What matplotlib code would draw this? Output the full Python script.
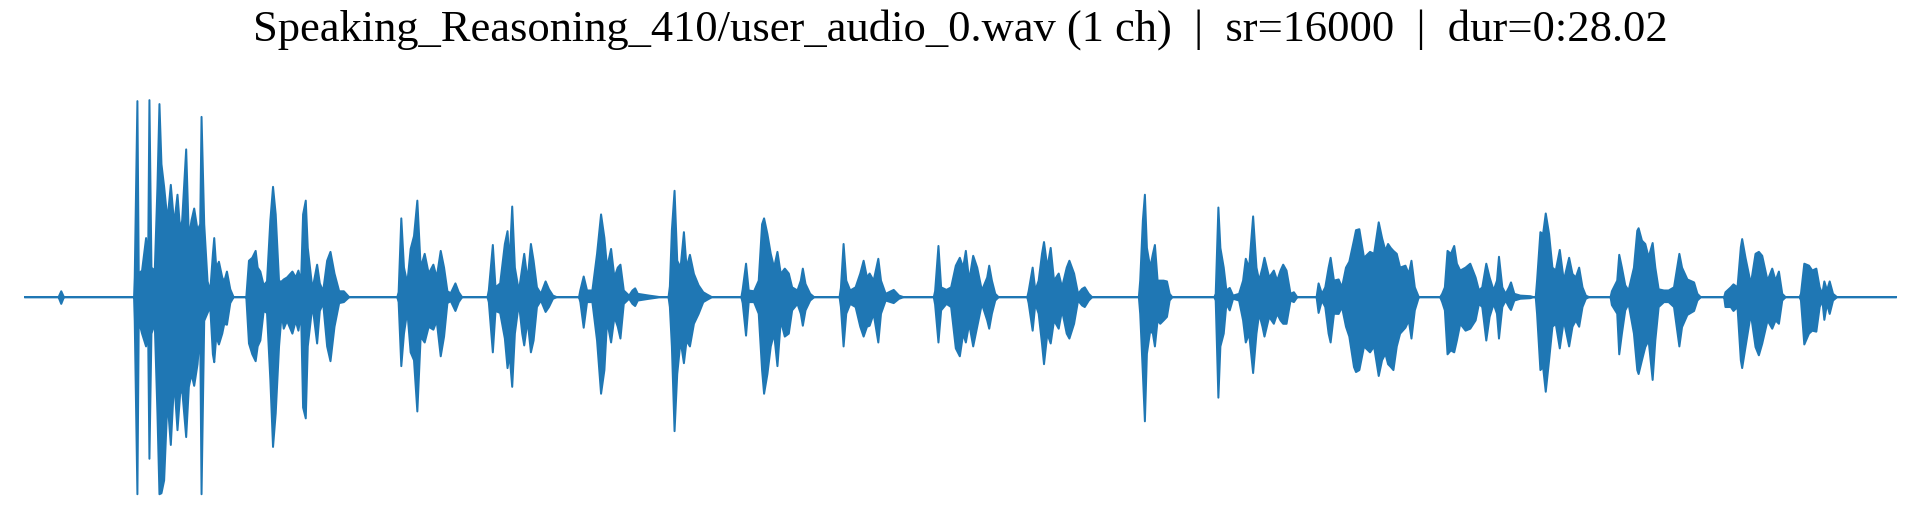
"""
Waveform overview of a speech clip (envelope read off the rendered plot).
"""

import matplotlib
matplotlib.use("Agg")
import matplotlib.pyplot as plt
import numpy as np


FILE_NAME = "Speaking_Reasoning_410/user_audio_0.wav"
N_CHANNELS = 1
SAMPLE_RATE = 16000
DURATION = 28.02  # seconds

WAVE_COLOR = "#1f77b4"

# ---------------------------------------------------------------------------
# Envelope keypoints : time (s), upper peak, lower peak (normalised amplitude)
# ---------------------------------------------------------------------------

env_t = [
    0.00, 0.51, 0.55, 0.59,
    # burst 1
    1.64, 1.65, 1.69, 1.71, 1.76, 1.82, 1.85, 1.87, 1.90, 1.95, 1.99, 2.02,
    2.05, 2.09, 2.14, 2.19, 2.24, 2.29, 2.33, 2.36, 2.42, 2.46, 2.50, 2.54,
    2.59, 2.63, 2.65, 2.69, 2.74, 2.78, 2.82, 2.84, 2.87, 2.91, 2.96, 2.99,
    3.03, 3.08, 3.13,
    # burst 2
    3.32, 3.36, 3.41, 3.46, 3.49, 3.53, 3.58, 3.63, 3.68, 3.72, 3.76, 3.81,
    3.85, 3.88, 3.93, 4.01, 4.06, 4.10, 4.14, 4.17, 4.21, 4.24, 4.31, 4.38,
    4.42, 4.47, 4.53, 4.58, 4.64, 4.71, 4.78, 4.86,
    # burst 3
    5.58, 5.60, 5.64, 5.68, 5.73, 5.78, 5.83, 5.88, 5.93, 5.99, 6.05, 6.12,
    6.17, 6.23, 6.28, 6.33, 6.38, 6.45, 6.50, 6.55,
    # burst 4
    6.93, 6.95, 7.01, 7.05, 7.12, 7.19, 7.23, 7.26, 7.30, 7.34, 7.40, 7.45,
    7.48, 7.53, 7.58, 7.62, 7.67, 7.73, 7.80, 7.85, 7.91, 7.97,
    # burst 5
    8.30, 8.32, 8.37, 8.42, 8.50, 8.57, 8.63, 8.68, 8.72, 8.78, 8.83, 8.88,
    8.92, 8.97, 9.05, 9.10, 9.14, 9.18, 9.35, 9.52,
    # burst 6
    9.64, 9.66, 9.69, 9.73, 9.77, 9.82, 9.87, 9.91, 9.96, 10.02, 10.09, 10.16,
    10.22, 10.29,
    # burst 7
    10.73, 10.75, 10.80, 10.84, 10.92, 10.99, 11.04, 11.07, 11.12, 11.17,
    11.22, 11.27, 11.32, 11.38, 11.44, 11.49, 11.57, 11.62, 11.65, 11.69,
    11.76, 11.82,
    # burst 8
    12.20, 12.22, 12.26, 12.30, 12.36, 12.44, 12.51, 12.56, 12.61, 12.65,
    12.71, 12.78, 12.82, 12.89, 13.01, 13.09, 13.16,
    # burst 9
    13.61, 13.63, 13.68, 13.72, 13.80, 13.87, 13.94, 14.00, 14.05, 14.09,
    14.14, 14.20, 14.26, 14.33, 14.41, 14.44, 14.48, 14.53, 14.58,
    # burst 10
    15.01, 15.03, 15.09, 15.13, 15.18, 15.23, 15.26, 15.31, 15.36, 15.41,
    15.48, 15.53, 15.60, 15.64, 15.71, 15.77, 15.83, 15.87, 15.93, 15.98,
    # burst 11
    16.68, 16.70, 16.74, 16.77, 16.80, 16.85, 16.89, 16.92, 16.96, 17.00,
    17.05, 17.10, 17.14, 17.18,
    # burst 12
    17.81, 17.83, 17.87, 17.90, 17.95, 17.99, 18.04, 18.09, 18.18, 18.24,
    18.28, 18.33, 18.39, 18.44, 18.48, 18.53, 18.56, 18.63, 18.70, 18.75,
    18.80, 18.84, 18.89, 18.95, 19.00, 19.05,
    # burst 13
    19.34, 19.37, 19.42, 19.47, 19.52, 19.55, 19.60, 19.67, 19.72, 19.78,
    19.83, 19.90, 19.93, 19.98, 20.05, 20.14, 20.20, 20.27, 20.32, 20.37,
    20.41, 20.45, 20.49, 20.54, 20.59, 20.67, 20.72, 20.76, 20.81, 20.87,
    # burst 14
    21.19, 21.22, 21.26, 21.30, 21.35, 21.40, 21.44, 21.49, 21.57, 21.64,
    21.72, 21.77, 21.82, 21.88, 21.93, 21.99, 22.04, 22.07, 22.12, 22.17,
    22.22, 22.25, 22.30, 22.39, 22.54, 22.59,
    # burst 15
    22.62, 22.64, 22.69, 22.73, 22.77, 22.82, 22.87, 22.92, 22.98, 23.04,
    23.12, 23.17, 23.22, 23.27, 23.32, 23.37, 23.42,
    # burst 16
    23.74, 23.76, 23.84, 23.87, 23.91, 23.96, 24.01, 24.09, 24.14, 24.16,
    24.21, 24.26, 24.31, 24.37, 24.41, 24.46, 24.54, 24.61, 24.69, 24.77,
    24.81, 24.89, 24.99, 25.04, 25.09,
    # burst 17
    25.44, 25.46, 25.54, 25.58, 25.64, 25.69, 25.71, 25.76, 25.84, 25.91,
    25.96, 26.01, 26.09, 26.16, 26.21, 26.26, 26.31, 26.36,
    # burst 18
    26.57, 26.59, 26.64, 26.71, 26.76, 26.82, 26.87, 26.91, 26.94, 26.98,
    27.02, 27.07, 27.13,
    28.02,
]

env_hi = [
    0.0, 0.0, 0.03, 0.0,
    # burst 1
    0.0, 0.10, 0.995, 0.12, 0.135, 0.30, 0.15, 1.0, 0.15, 0.135, 0.56, 0.98,
    0.675, 0.56, 0.39, 0.57, 0.37, 0.52, 0.34, 0.39, 0.75, 0.30, 0.39, 0.45,
    0.34, 0.37, 0.915, 0.37, 0.08, 0.03, 0.22, 0.30, 0.15, 0.18, 0.10, 0.08,
    0.13, 0.04, 0.0,
    # burst 2
    0.0, 0.185, 0.20, 0.235, 0.15, 0.13, 0.06, 0.08, 0.39, 0.56, 0.42, 0.08,
    0.08, 0.09, 0.10, 0.13, 0.10, 0.135, 0.08, 0.42, 0.49, 0.25, 0.04, 0.165,
    0.07, 0.03, 0.185, 0.23, 0.12, 0.03, 0.03, 0.0,
    # burst 3
    0.0, 0.025, 0.40, 0.15, 0.07, 0.245, 0.31, 0.49, 0.15, 0.22, 0.12, 0.165,
    0.10, 0.235, 0.15, 0.03, 0.02, 0.07, 0.025, 0.0,
    # burst 4
    0.0, 0.035, 0.265, 0.05, 0.07, 0.27, 0.335, 0.17, 0.46, 0.15, 0.03, 0.15,
    0.22, 0.084, 0.27, 0.185, 0.05, 0.017, 0.08, 0.04, 0.008, 0.0,
    # burst 5
    0.0, 0.035, 0.105, 0.034, 0.034, 0.22, 0.42, 0.30, 0.15, 0.245, 0.10, 0.15,
    0.165, 0.034, 0.008, 0.034, 0.045, 0.017, 0.008, 0.0,
    # burst 6
    0.0, 0.055, 0.34, 0.54, 0.185, 0.15, 0.33, 0.15, 0.215, 0.118, 0.06, 0.025,
    0.013, 0.0,
    # burst 7
    0.0, 0.04, 0.17, 0.034, 0.03, 0.084, 0.37, 0.40, 0.32, 0.22,
    0.15, 0.23, 0.118, 0.145, 0.12, 0.05, 0.034, 0.084, 0.145, 0.067,
    0.017, 0.0,
    # burst 8
    0.0, 0.047, 0.27, 0.084, 0.034, 0.05, 0.12, 0.185, 0.10, 0.12,
    0.084, 0.195, 0.084, 0.017, 0.037, 0.008, 0.0,
    # burst 9
    0.0, 0.03, 0.26, 0.05, 0.037, 0.05, 0.16, 0.20, 0.15, 0.235,
    0.084, 0.21, 0.15, 0.034, 0.10, 0.16, 0.084, 0.017, 0.0,
    # burst 10
    0.0, 0.03, 0.15, 0.034, 0.084, 0.22, 0.28, 0.15, 0.25, 0.084,
    0.12, 0.05, 0.15, 0.185, 0.12, 0.017, 0.042, 0.05, 0.017, 0.0,
    # burst 11
    0.0, 0.085, 0.39, 0.52, 0.25, 0.15, 0.22, 0.265, 0.084, 0.084,
    0.084, 0.08, 0.017, 0.0,
    # burst 12
    0.0, 0.017, 0.455, 0.25, 0.15, 0.034, 0.047, 0.008, 0.017, 0.084,
    0.195, 0.15, 0.41, 0.15, 0.084, 0.15, 0.20, 0.10, 0.135, 0.084,
    0.135, 0.165, 0.135, 0.017, 0.025, 0.0,
    # burst 13
    0.0, 0.07, 0.017, 0.05, 0.15, 0.20, 0.084, 0.09, 0.05, 0.15,
    0.18, 0.29, 0.34, 0.345, 0.20, 0.23, 0.22, 0.38, 0.30, 0.236,
    0.27, 0.25, 0.235, 0.22, 0.15, 0.16, 0.118, 0.185, 0.05, 0.0,
    # burst 14
    0.0, 0.017, 0.05, 0.235, 0.22, 0.26, 0.17, 0.135, 0.15, 0.17,
    0.10, 0.034, 0.05, 0.17, 0.10, 0.034, 0.084, 0.205, 0.05, 0.017,
    0.05, 0.075, 0.017, 0.008, 0.005, 0.0,
    # burst 15
    0.0, 0.084, 0.33, 0.32, 0.425, 0.32, 0.15, 0.135, 0.24, 0.084,
    0.20, 0.118, 0.10, 0.15, 0.05, 0.008, 0.0,
    # burst 16
    0.0, 0.03, 0.084, 0.215, 0.15, 0.06, 0.034, 0.15, 0.337, 0.35,
    0.287, 0.27, 0.202, 0.275, 0.15, 0.04, 0.034, 0.034, 0.05, 0.22,
    0.15, 0.09, 0.075, 0.017, 0.0,
    # burst 17
    0.0, 0.025, 0.05, 0.065, 0.05, 0.253, 0.295, 0.20, 0.067, 0.22,
    0.23, 0.21, 0.084, 0.145, 0.084, 0.13, 0.017, 0.0,
    # burst 18
    0.0, 0.017, 0.17, 0.16, 0.135, 0.145, 0.05, 0.017, 0.08, 0.034,
    0.08, 0.017, 0.0,
    0.0,
]

env_lo = [
    0.0, 0.0, -0.034, 0.0,
    # burst 1
    0.0, -0.12, -1.0, -0.12, -0.185, -0.25, -0.15, -0.82, -0.185, -0.135, -0.59, -1.0,
    -0.995, -0.93, -0.52, -0.75, -0.42, -0.675, -0.49, -0.47, -0.71, -0.455, -0.39, -0.45,
    -0.34, -0.17, -1.0, -0.12, -0.08, -0.05, -0.29, -0.33, -0.20, -0.24, -0.185, -0.135,
    -0.14, -0.03, 0.0,
    # burst 2
    0.0, -0.235, -0.29, -0.325, -0.25, -0.22, -0.07, -0.08, -0.42, -0.76, -0.59, -0.25,
    -0.08, -0.16, -0.12, -0.185, -0.12, -0.17, -0.08, -0.56, -0.615, -0.25, -0.04, -0.235,
    -0.07, -0.03, -0.25, -0.325, -0.15, -0.03, -0.025, 0.0,
    # burst 3
    0.0, -0.025, -0.35, -0.185, -0.07, -0.28, -0.32, -0.58, -0.20, -0.23, -0.15, -0.165,
    -0.12, -0.30, -0.20, -0.03, -0.02, -0.07, -0.025, 0.0,
    # burst 4
    0.0, -0.025, -0.28, -0.07, -0.08, -0.21, -0.36, -0.29, -0.455, -0.185, -0.03, -0.185,
    -0.245, -0.118, -0.28, -0.22, -0.05, -0.017, -0.075, -0.05, -0.008, 0.0,
    # burst 5
    0.0, -0.025, -0.155, -0.025, -0.025, -0.22, -0.49, -0.37, -0.118, -0.23, -0.10, -0.15,
    -0.21, -0.034, -0.008, -0.034, -0.045, -0.017, -0.008, 0.0,
    # burst 6
    0.0, -0.05, -0.25, -0.68, -0.39, -0.22, -0.335, -0.22, -0.25, -0.135, -0.085, -0.025,
    -0.013, 0.0,
    # burst 7
    0.0, -0.03, -0.195, -0.025, -0.025, -0.084, -0.37, -0.49, -0.39, -0.25,
    -0.185, -0.35, -0.118, -0.20, -0.185, -0.067, -0.034, -0.084, -0.145, -0.067,
    -0.017, 0.0,
    # burst 8
    0.0, -0.05, -0.25, -0.084, -0.034, -0.05, -0.15, -0.20, -0.15, -0.145,
    -0.084, -0.23, -0.084, -0.017, -0.03, -0.008, 0.0,
    # burst 9
    0.0, -0.037, -0.23, -0.067, -0.034, -0.05, -0.26, -0.30, -0.185, -0.23,
    -0.135, -0.25, -0.15, -0.034, -0.118, -0.16, -0.084, -0.017, 0.0,
    # burst 10
    0.0, -0.03, -0.17, -0.034, -0.084, -0.236, -0.34, -0.185, -0.235, -0.118,
    -0.16, -0.067, -0.185, -0.21, -0.135, -0.017, -0.042, -0.05, -0.017, 0.0,
    # burst 11
    0.0, -0.085, -0.39, -0.63, -0.287, -0.17, -0.185, -0.25, -0.118, -0.135,
    -0.118, -0.10, -0.017, 0.0,
    # burst 12
    0.0, -0.017, -0.51, -0.25, -0.185, -0.034, -0.067, -0.008, -0.017, -0.118,
    -0.23, -0.185, -0.385, -0.185, -0.084, -0.15, -0.20, -0.10, -0.135, -0.084,
    -0.118, -0.135, -0.135, -0.017, -0.025, 0.0,
    # burst 13
    0.0, -0.08, -0.017, -0.05, -0.185, -0.23, -0.084, -0.085, -0.05, -0.15,
    -0.20, -0.355, -0.38, -0.37, -0.25, -0.28, -0.25, -0.40, -0.32, -0.287,
    -0.34, -0.354, -0.37, -0.25, -0.185, -0.155, -0.118, -0.21, -0.067, 0.0,
    # burst 14
    0.0, -0.025, -0.067, -0.29, -0.27, -0.28, -0.22, -0.135, -0.17, -0.16,
    -0.118, -0.034, -0.05, -0.22, -0.10, -0.034, -0.084, -0.21, -0.05, -0.017,
    -0.05, -0.065, -0.017, -0.008, -0.005, 0.0,
    # burst 15
    0.0, -0.084, -0.37, -0.354, -0.48, -0.32, -0.15, -0.135, -0.26, -0.118,
    -0.25, -0.15, -0.118, -0.15, -0.05, -0.008, 0.0,
    # burst 16
    0.0, -0.04, -0.084, -0.29, -0.185, -0.067, -0.034, -0.185, -0.37, -0.39,
    -0.32, -0.253, -0.22, -0.42, -0.22, -0.05, -0.025, -0.025, -0.05, -0.25,
    -0.152, -0.09, -0.07, -0.017, 0.0,
    # burst 17
    0.0, -0.05, -0.05, -0.07, -0.05, -0.32, -0.36, -0.253, -0.084, -0.253,
    -0.295, -0.236, -0.118, -0.16, -0.118, -0.135, -0.017, 0.0,
    # burst 18
    0.0, -0.017, -0.24, -0.185, -0.17, -0.175, -0.05, -0.017, -0.115, -0.034,
    -0.085, -0.017, 0.0,
    0.0,
]


def minutes_fmt(seconds: float) -> str:
    """Formate une durée en m:ss.cc."""
    m = int(seconds // 60)
    return f"{m}:{seconds - 60 * m:05.2f}"


t = np.asarray(env_t)
hi = np.asarray(env_hi)
lo = np.asarray(env_lo)

fig = plt.figure(figsize=(16, 4.4), dpi=120)
ax = fig.add_axes([0.0125, 0.0276, 0.975, 0.821])

ax.plot([0, DURATION], [0, 0], color=WAVE_COLOR, linewidth=1.0)
ax.fill_between(t, lo, hi, color=WAVE_COLOR, linewidth=1.2, edgecolor=WAVE_COLOR)

ax.set_xlim(0, DURATION)
ax.set_ylim(-1.1, 1.1)
ax.axis("off")

title = (f"{FILE_NAME} ({N_CHANNELS} ch)  |  sr={SAMPLE_RATE}  |  "
         f"dur={minutes_fmt(DURATION)}")
fig.text(0.5, 1 - 41 / 528, title, ha="center", va="baseline",
         fontsize=26.7, family=["Liberation Serif", "DejaVu Serif"])

fig.savefig("out.png", dpi=120)
